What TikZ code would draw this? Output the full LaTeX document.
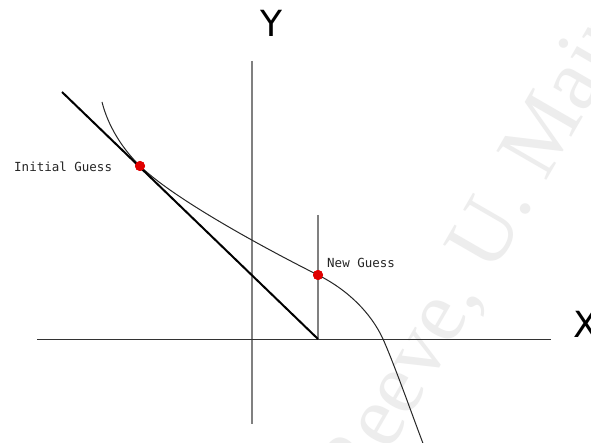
\documentclass[tikz,border=0pt]{standalone}
\usepackage{fontspec}
\newfontfamily\axisfont{DejaVu Sans}
\newfontfamily\labelfont{DejaVu Sans Mono}
\newfontfamily\wmfont{Liberation Serif}
\definecolor{axisgray}{HTML}{808080}
\definecolor{axisdark}{HTML}{333333}
\definecolor{guessred}{HTML}{E00000}
\tikzset{
  axislbl/.style={font=\axisfont\fontsize{36}{36}\selectfont, inner sep=0pt},
  guesslbl/.style={font=\labelfont\fontsize{12.5}{12.5}\selectfont, inner sep=0pt, anchor=base west, text=black!85},
  guessdot/.style={circle, fill=guessred, minimum size=10pt, inner sep=0pt},
  vline/.style={axisgray, line width=1.4pt},
  hline/.style={axisdark, line width=1pt},
  tangentline/.style={black, line width=2pt},
  curveline/.style={black!85, line width=1pt},
  wmark/.style={font=\wmfont\fontsize{88}{88}\selectfont, text=black!7, rotate=60, anchor=base west, inner sep=0pt}
}
\begin{document}
\begin{tikzpicture}[x=1pt,y=-1pt]
\useasboundingbox (0,0) rectangle (591,443);
\fill[white] (0,0) rectangle (591,443);
% watermark
\node[wmark] (wm) at (360,504) {Reeve, U. Main};
% coordinates
\coordinate (ytop) at (252,61);
\coordinate (ybot) at (252,424);
\coordinate (xl) at (37,339);
\coordinate (xr) at (551,339);
\coordinate (tstart) at (62,92);
\coordinate (root) at (318,339);
\coordinate (vtop) at (318,215);
\coordinate (cstart) at (102,102);
\coordinate (cross) at (383,339);
\coordinate (cend) at (424,446);
% axes
\draw[vline] (ytop) -- (ybot);
\draw[hline] (xl) -- (xr);
\draw[vline] (vtop) -- (root);
% guesses (positions)
\node[guessdot] (g0) at (140,166) {};
\node[guessdot] (g1) at (318,275) {};
% curve
\draw[curveline] (cstart) .. controls (108,126) and (122.5,149) .. (g0.center)
  .. controls (175,200) and (270,251) .. (g1.center)
  .. controls (348,290) and (371,313) .. (cross)
  .. controls (395,366) and (414,420) .. (cend);
% tangent
\draw[tangentline] (tstart) -- (root);
% redraw dots on top
\node[guessdot] at (g0) {};
\node[guessdot] at (g1) {};
\node[guesslbl] (l0) at (14,172) {Initial Guess};
\node[guesslbl] (l1) at (327,268) {New Guess};
% axis labels
\node[axislbl] (Y) at (271,23.5) {Y};
\node[axislbl] (X) at (586,324) {X};
\end{tikzpicture}
\end{document}
